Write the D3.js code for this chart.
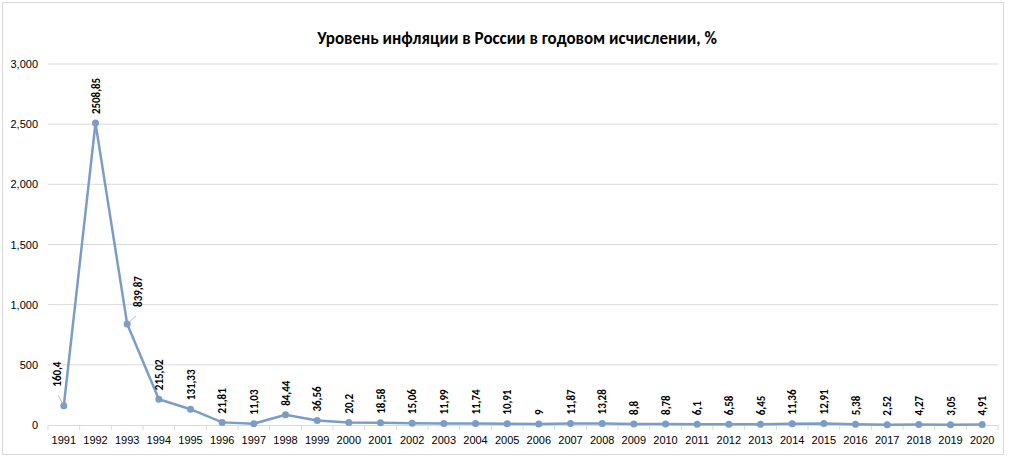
<!DOCTYPE html>
<html><head><meta charset="utf-8">
<script src="https://cdn.jsdelivr.net/npm/d3@7"></script>
<style>body{margin:0;background:#fff;font-family:Calibri,"Liberation Sans",Arial,sans-serif}</style>
</head><body><div id="chart"></div>
<script>
var years = d3.range(1991, 2021).map(String);
var inflation = [160.4, 2508.85, 839.87, 215.02, 131.33, 21.81, 11.03, 84.44, 36.56, 20.2,
  18.58, 15.06, 11.99, 11.74, 10.91, 9, 11.87, 13.28, 8.8, 8.78,
  6.1, 6.58, 6.45, 11.36, 12.91, 5.38, 2.52, 4.27, 3.05, 4.91];
var labels = ["160,4", "2508,85", "839,87", "215,02", "131,33", "21,81", "11,03", "84,44", "36,56", "20,2",
  "18,58", "15,06", "11,99", "11,74", "10,91", "9", "11,87", "13,28", "8,8", "8,78",
  "6,1", "6,58", "6,45", "11,36", "12,91", "5,38", "2,52", "4,27", "3,05", "4,91"];
var yTicks = [0, 500, 1000, 1500, 2000, 2500, 3000];

var svgWidth = 1024, svgHeight = 464;
var margin = {top: 64, right: 26, bottom: 39, left: 48};
var width = svgWidth - margin.left - margin.right;
var height = svgHeight - margin.top - margin.bottom;

var svg = d3.select("#chart").append("svg")
  .attr("width", svgWidth).attr("height", svgHeight);

// outer frame
svg.append("rect").attr("x", 2.5).attr("y", 2.5).attr("width", 1001).attr("height", 452)
  .attr("fill", "none").attr("stroke", "#d9d9d9");

svg.append("text").attr("x", 517).attr("y", 44).attr("text-anchor", "middle")
  .attr("font-size", 17).attr("font-weight", "bold").attr("fill", "#000")
  .text("Уровень инфляции в России в годовом исчислении, %");

var g = svg.append("g").attr("transform", `translate(${margin.left},${margin.top})`);

var x = d3.scaleBand().domain(years).range([0, width]);
var y = d3.scaleLinear().domain([0, 3000]).range([height, 0]);

// gridlines
g.selectAll(".grid").data(yTicks.slice(1)).enter().append("line")
  .attr("x1", 0).attr("x2", width)
  .attr("y1", d => y(d)).attr("y2", d => y(d))
  .attr("stroke", "#d9d9d9");

var yAxis = g.append("g").call(d3.axisLeft(y).tickValues(yTicks).tickSize(0).tickPadding(10));
yAxis.select(".domain").remove();
yAxis.selectAll("text").attr("font-size", 11).attr("fill", "#000");

var xAxis = g.append("g").attr("transform", `translate(0,${height})`)
  .call(d3.axisBottom(x).tickSize(0).tickPadding(11));
xAxis.select(".domain").attr("stroke", "#d9d9d9");
xAxis.selectAll("text").attr("font-size", 11).attr("fill", "#000");
g.selectAll(".xt").data(years.concat(["end"])).enter().append("line")
  .attr("x1", (d, i) => i * x.bandwidth()).attr("x2", (d, i) => i * x.bandwidth())
  .attr("y1", height).attr("y2", height + 5).attr("stroke", "#d9d9d9");

var cx = (d, i) => x(years[i]) + x.bandwidth() / 2;

g.append("path").datum(inflation)
  .attr("fill", "none").attr("stroke", "#7b9cc7").attr("stroke-width", 2.5)
  .attr("d", d3.line().x(cx).y(d => y(d)));

g.selectAll(".pt").data(inflation).enter().append("circle")
  .attr("cx", cx).attr("cy", d => y(d)).attr("r", 3.5).attr("fill", "#7b9cc7");

// label offsets (dx, extra lift) for the callout labels
var offset = {0: [-7, 10], 2: [11, 8]};
inflation.forEach(function(v, i) {
  var o = offset[i] || [0, 0];
  var lx = cx(v, i) + o[0] + 4, ly = y(v) - 9 - o[1];
  if (offset[i]) {
    g.append("line").attr("x1", cx(v, i)).attr("y1", y(v))
      .attr("x2", cx(v, i) + o[0] * 0.8).attr("y2", y(v) - o[1])
      .attr("stroke", "#a6a6a6").attr("stroke-width", 0.8);
  }
  g.append("text").attr("transform", `translate(${lx},${ly}) rotate(-90)`)
    .attr("font-size", 11).attr("font-weight", "bold").attr("fill", "#000")
    .text(labels[i]);
});
</script></body></html>
